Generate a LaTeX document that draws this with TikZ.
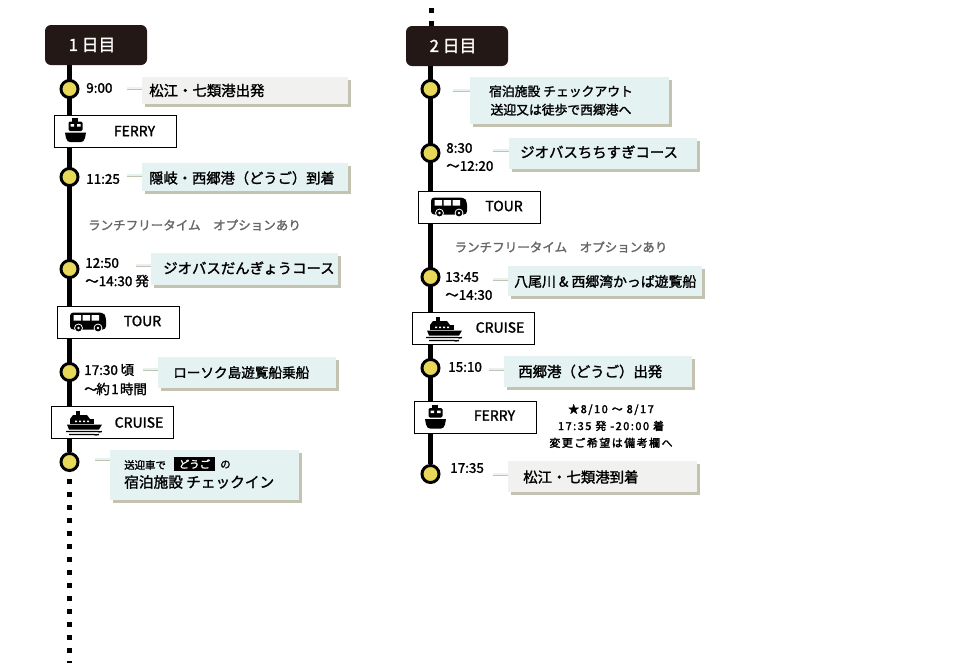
\documentclass[tikz,border=0pt]{standalone}
\usepackage{fontspec}
\setmainfont{Noto Sans CJK JP}[FakeBold=1.6]
\newfontfamily\heavyjp{Noto Sans CJK JP}[FakeBold=2.4,LetterSpace=14]
\usetikzlibrary{backgrounds,shadows}
\definecolor{headdark}{HTML}{231815}
\definecolor{stopyellow}{HTML}{E8D85A}
\definecolor{boxblue}{HTML}{E4F3F2}
\definecolor{boxgray}{HTML}{F1F1F0}
\definecolor{boxshadow}{HTML}{C4C3B2}
\definecolor{lunchgray}{HTML}{666666}
\tikzset{
headbox/.style={fill=headdark,text=white,rounded corners=4.5pt,minimum width=76.5pt,minimum height=30pt,inner sep=0pt,font=\fontsize{12.6}{14}\selectfont},
stop/.style={circle,draw=black,fill=stopyellow,line width=2.2pt,minimum size=12.8pt,inner sep=0pt},
spine/.style={line width=4pt,black},
dots/.style={line width=3.75pt,black,dash pattern=on 3.75pt off 6pt},
callout/.style={fill=#1,anchor=north west,inner sep=0pt,drop shadow={shadow xshift=2pt,shadow yshift=-2pt,fill=boxshadow,opacity=1}},
tab/.style={line width=1.8pt,draw=#1,preaction={draw=boxshadow,transform canvas={yshift=-1.2pt}}},
wayhead/.style={draw=black,fill=white,line width=0.8pt,anchor=north west,minimum width=91.5pt,minimum height=24pt,inner sep=0pt},
waytext/.style={font=\fontsize{10.5}{12}\selectfont},
timetext/.style={anchor=west,inner sep=0pt,font=\fontsize{10.1}{12}\selectfont},
boxtext/.style={anchor=west,inner sep=0pt,font=\fontsize{10.8}{13}\selectfont},
lunchtext/.style={text=lunchgray,inner sep=0pt,font=\fontsize{9.4}{11}\selectfont},
busicon/.pic={
\fill[rounded corners=2.5pt] (0,18) -- (0,1) -- (33,1) -- (36,5) -- (36,18) -- cycle;
\fill[white] (3.5,3.5) rectangle (11,9) (12.5,3.5) rectangle (20,9) (21.5,3.5) rectangle (29,9);
\fill[white] (8.5,16.5) circle (4.4) (28,16.5) circle (4.4);
\fill (8.5,16.5) circle (3.4) (28,16.5) circle (3.4);
\fill[white] (8.5,16.5) circle (1.3) (28,16.5) circle (1.3);
},
ferryicon/.pic={
\fill (7,0) rectangle (13,3.5);
\fill[rounded corners=1pt] (3.5,3.5) rectangle (17.5,13);
\fill[white] (5.5,6) rectangle (9,8.5) (12,6) rectangle (15.5,8.5);
\fill (0,14.5) -- (21,14.5) -- (20,20) .. controls (19,23) and (18,24) .. (16,24) -- (5,24) .. controls (3,24) and (2,23) .. (1,20) -- cycle;
},
cruiseicon/.pic={
\fill (10,0) rectangle (14,4);
\fill (7,4) -- (21,4) -- (24,8) -- (4,8) -- cycle;
\fill (4,8) rectangle (28,12.5);
\fill[white] (9,9.5) rectangle (11,11) (13,9.5) rectangle (15,11) (17,9.5) rectangle (19,11) (21,9.5) rectangle (23,11);
\fill (1,13.5) -- (36,13.5) -- (33,18.5) -- (3,18.5) -- cycle;
\draw[line width=1pt] (0,20.5) .. controls (3,19) and (4,22) .. (7,20.5) .. controls (10,19) and (11,22) .. (14,20.5) .. controls (17,19) and (18,22) .. (21,20.5) .. controls (24,19) and (25,22) .. (28,20.5) .. controls (31,19) and (32,22) .. (36,20.5);
\draw[line width=1pt] (3,23.5) .. controls (6,22) and (7,25) .. (10,23.5) .. controls (13,22) and (14,25) .. (17,23.5) .. controls (20,22) and (21,25) .. (24,23.5) .. controls (27,22) and (28,25) .. (33,23.5);
}
}
\begin{document}
\begin{tikzpicture}[x=0.75pt,y=-0.75pt,line cap=butt]
\useasboundingbox (0,0) rectangle (960,662);
\node [headbox] (headone) at (96,45) {1 日目\hspace*{6pt}};
\node [headbox] (headtwo) at (457,46) {2 日目\hspace*{6pt}};
\node [stop] (stopa) at (69.5,89) {};
\node [stop] (stopb) at (69.5,177) {};
\node [stop] (stopc) at (69.5,269) {};
\node [stop] (stopd) at (69.5,372) {};
\node [stop] (stope) at (69.5,462) {};
\node [stop] (stopf) at (430.5,89) {};
\node [stop] (stopg) at (430.5,153) {};
\node [stop] (stoph) at (430.5,277) {};
\node [stop] (stopi) at (430.5,368) {};
\node [stop] (stopj) at (430.5,474) {};
\coordinate (dotsonea) at (69.5,479);
\coordinate (dotsoneb) at (69.5,670);
\coordinate (dotstwoa) at (431,-5);
\coordinate (dotstwob) at (431,26);
\node [callout=boxgray,minimum width=154.5pt,minimum height=20.3pt] (boxa) at (142,77) {};
\node [callout=boxblue,minimum width=154.5pt,minimum height=21pt] (boxb) at (142,163) {};
\node [callout=boxblue,minimum width=140.2pt,minimum height=24pt] (boxc) at (151,253) {};
\node [callout=boxblue,minimum width=133.5pt,minimum height=23.2pt] (boxd) at (158,357) {};
\node [callout=boxblue,minimum width=141.7pt,minimum height=37.5pt] (boxe) at (110,450) {};
\node [callout=boxblue,minimum width=149.2pt,minimum height=35.2pt] (boxf) at (470,77) {};
\node [callout=boxblue,minimum width=141pt,minimum height=23.2pt] (boxg) at (509,138) {};
\node [callout=boxblue,minimum width=145.5pt,minimum height=22.5pt] (boxh) at (508,266) {};
\node [callout=boxblue,minimum width=141pt,minimum height=23.2pt] (boxi) at (504,356) {};
\node [callout=boxgray,minimum width=141.7pt,minimum height=23.2pt] (boxj) at (508,461) {};
\coordinate (taba) at (127,88);
\coordinate (tabb) at (127,175);
\coordinate (tabc) at (136,265);
\coordinate (tabd) at (143,369);
\coordinate (tabe) at (95,459);
\coordinate (tabf) at (453,90);
\coordinate (tabg) at (493,150);
\coordinate (tabh) at (493,279);
\coordinate (tabi) at (489,369);
\coordinate (tabj) at (493,474);
\draw [tab=boxgray] (taba) -- (taba -| boxa.west);
\draw [tab=boxblue] (tabb) -- (tabb -| boxb.west);
\draw [tab=boxblue] (tabc) -- (tabc -| boxc.west);
\draw [tab=boxblue] (tabd) -- (tabd -| boxd.west);
\draw [tab=boxblue] (tabe) -- (tabe -| boxe.west);
\draw [tab=boxblue] (tabf) -- (tabf -| boxf.west);
\draw [tab=boxblue] (tabg) -- (tabg -| boxg.west);
\draw [tab=boxblue] (tabh) -- (tabh -| boxh.west);
\draw [tab=boxblue] (tabi) -- (tabi -| boxi.west);
\draw [tab=boxgray] (tabj) -- (tabj -| boxj.west);
\node [wayhead] (ferryone) at (54,115) {};
\node [wayhead] (tourone) at (57,306) {};
\node [wayhead] (cruiseone) at (51,406) {};
\node [wayhead] (tourtwo) at (418,191) {};
\node [wayhead] (cruisetwo) at (412,312) {};
\node [wayhead] (ferrytwo) at (414,401) {};
\pic at (65,118) {ferryicon};
\pic at (70,311.5) {busicon};
\pic at (66,411) {cruiseicon};
\pic at (431,196.5) {busicon};
\pic at (426,317) {cruiseicon};
\pic at (425,404.5) {ferryicon};
\node [waytext] (ferryonetext) at (134.5,131) {FERRY};
\node [waytext] (touronetext) at (142.5,321) {TOUR};
\node [waytext] (cruiseonetext) at (139,422.5) {CRUISE};
\node [waytext] (tourtwotext) at (504,206) {TOUR};
\node [waytext] (cruisetwotext) at (500,327.5) {CRUISE};
\node [waytext] (ferrytwotext) at (494.5,415.5) {FERRY};
\node [timetext] (timea) at (86,88) {9:00};
\node [timetext] (timeb) at (86,179) {11:25};
\node [timetext] (timec) at (85,263) {12:50};
\node [timetext] (timed) at (85,281) {～14:30 発};
\node [timetext] (timee) at (84,370) {17:30\hspace{2pt}頃};
\node [timetext] (timef) at (84,389) {～\hspace*{-1pt}約\hspace{1pt}1\hspace{1pt}時間};
\node [timetext] (timeg) at (446,148) {8:30};
\node [timetext] (timeh) at (446,166) {～12:20};
\node [timetext] (timei) at (445,277) {13:45};
\node [timetext] (timej) at (445,295) {～14:30};
\node [timetext] (timek) at (448,367) {15:10};
\node [timetext] (timel) at (450,468) {17:35};
\node [boxtext] (texta) at (149,90.5) {松江・七類港出発};
\node [boxtext,font=\fontsize{10.7}{13}\selectfont] (textb) at (149,178) {隠岐・西郷港（どうご）到着};
\node [boxtext] (textc) at (163,268) {ジオバスだんぎょうコース};
\node [boxtext,font=\fontsize{10.2}{13}\selectfont] (textd) at (173,372.5) {ローソク島遊覧船乗船};
\node [boxtext,font=\fontsize{7.8}{10}\selectfont] (texte) at (124,465) {送迎車で};
\node [fill=black,text=white,minimum width=30.8pt,minimum height=10.5pt,inner sep=0pt,font=\fontsize{7.8}{10}\selectfont] (textf) at (194.5,464) {どうご};
\node [boxtext,font=\fontsize{7.8}{10}\selectfont] (textg) at (220,464.5) {の};
\node [boxtext,font=\fontsize{11}{13}\selectfont] (texth) at (124,482) {宿泊施設 チェックイン};
\node [align=center,inner sep=0pt,font=\fontsize{9.6}{13.8}\selectfont] (texti) at (561,100.5) {宿泊施設 チェックアウト\\送迎又は徒歩で西郷港へ};
\node [boxtext] (textj) at (520,152) {ジオバスちちすぎコース};
\node [boxtext,font=\fontsize{10.4}{13}\selectfont] (textk) at (514,281.5) {八尾川 \& 西郷湾かっぱ遊覧船};
\node [boxtext] (textl) at (518,371.5) {西郷港（どうご）出発};
\node [boxtext] (textm) at (523,477) {松江・七類港到着};
\node [lunchtext] (lunchone) at (194.5,225) {ランチフリータイム　オプションあり};
\node [lunchtext] (lunchtwo) at (561,247) {ランチフリータイム　オプションあり};
\node [align=center,inner sep=0pt,font=\heavyjp\fontsize{8.2}{12.7}\selectfont] (notice) at (611,426) {★8/10 ～ 8/17\\17:35 発 -20:00 着\\変更ご希望は備考欄へ};
\begin{scope}[on background layer]
\draw [spine] (stopa |- headone) -- (stope);
\draw [spine] (stopf |- headtwo) -- (stopj);
\draw [dots] (dotsonea) -- (dotsoneb);
\draw [dots] (dotstwoa) -- (dotstwob);
\end{scope}
\end{tikzpicture}
\end{document}
